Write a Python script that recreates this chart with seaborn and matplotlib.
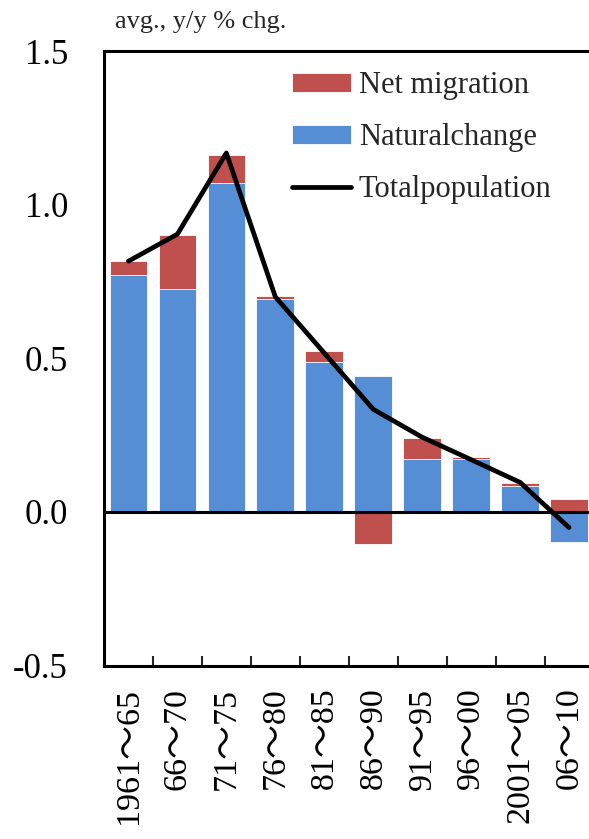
import numpy as np
import pandas as pd
import matplotlib
matplotlib.use("Agg")
import matplotlib.pyplot as plt
import seaborn as sns
from matplotlib.ticker import FixedLocator

# ---- data ----
periods = ["1961～65", "66～70", "71～75", "76～80", "81～85",
           "86～90", "91～95", "96～00", "2001～05", "06～10"]
natural_change = [0.772, 0.726, 1.071, 0.694, 0.487, 0.441, 0.171, 0.171, 0.085, -0.097]
net_migration = [0.044, 0.175, 0.092, 0.008, 0.038, -0.104, 0.069, 0.009, 0.009, 0.041]
total_population = [0.816, 0.904, 1.168, 0.700, 0.517, 0.334, 0.243, 0.170, 0.096, -0.051]
y_ticks = [-0.5, 0.0, 0.5, 1.0, 1.5]
y_tick_labels = ["-0.5", "0.0", "0.5", "1.0", "1.5"]
unit_label = "avg., y/y % chg."
legend_labels = ["Net migration", "Naturalchange", "Totalpopulation"]

RED = "#C0504D"
BLUE = "#558ED5"

sns.set_style("white")
plt.rcParams["font.family"] = ["Liberation Serif", "Noto Sans CJK JP", "DejaVu Sans"]

nat = np.array(natural_change)
mig = np.array(net_migration)
same_sign = np.sign(nat) == np.sign(mig)
# red layer: stacked top when same sign, otherwise its own bar from zero
red_layer = np.where(same_sign, nat + mig, mig)

df = pd.DataFrame({"period": periods, "natural": nat, "red": red_layer,
                   "total": total_population, "pos": np.arange(len(periods))})

fig = plt.figure(figsize=(5.89, 8.39), dpi=100)
ax = fig.add_axes([104 / 589, 173.5 / 839, 1 - 104 / 589, (788 - 173.5) / 839])

sns.barplot(data=df, x="period", y="red", color=RED, saturation=1, width=0.77,
            edgecolor="white", linewidth=0.6, ax=ax, order=periods, errorbar=None)
red_bars = ax.containers[-1]
sns.barplot(data=df, x="period", y="natural", color=BLUE, saturation=1, width=0.77,
            edgecolor="white", linewidth=0.6, ax=ax, order=periods, errorbar=None)
blue_bars = ax.containers[-1]
sns.lineplot(data=df, x="pos", y="total", color="black", linewidth=3.4, ax=ax,
             solid_capstyle="round", solid_joinstyle="round")
total_line = ax.lines[-1]

ax.axhline(0, color="black", linewidth=2.2, zorder=5)

ax.set_ylim(-0.5, 1.5)
n = len(periods)
ax.set_xlim(-0.5, n - 0.5 - 4.5 / 49)
ax.set_yticks(y_ticks)
ax.set_yticklabels(y_tick_labels)
ax.set_xticks(np.arange(n))
ax.set_xticklabels(periods, rotation=90)
ax.xaxis.set_minor_locator(FixedLocator(np.arange(n - 1) + 0.5))
ax.set_xlabel("")
ax.set_ylabel("")

ax.tick_params(axis="y", which="major", direction="in", length=8.5, width=1.5,
               labelsize=25, pad=26, colors="black")
ax.tick_params(axis="x", which="major", length=0, labelsize=24.5, pad=16, colors="black")
ax.tick_params(axis="x", which="minor", direction="in", length=7, width=1.5, bottom=True)

for side in ["left", "top", "bottom"]:
    ax.spines[side].set_visible(True)
    ax.spines[side].set_color("black")
    ax.spines[side].set_linewidth(2.2)
ax.spines["right"].set_visible(False)

fig.text(115 / 589, (839 - 28) / 839, unit_label, fontsize=19, va="baseline", ha="left")

leg = ax.legend([red_bars[0], blue_bars[0], total_line], legend_labels, loc="upper left",
                bbox_to_anchor=(292 / 589, (839 - 71) / 839), bbox_transform=fig.transFigure,
                frameon=False, fontsize=22, handlelength=1.93, handleheight=0.59,
                handletextpad=0.26, labelspacing=0.76, borderpad=0, borderaxespad=0)

fig.savefig("out.png", dpi=100)
